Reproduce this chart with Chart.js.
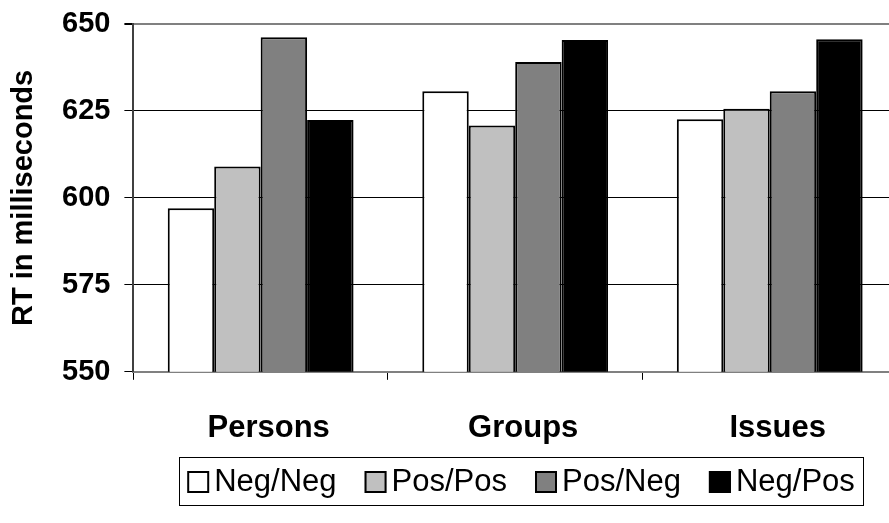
<!DOCTYPE html>
<html>
<head>
<meta charset="utf-8">
<script src="https://cdn.jsdelivr.net/npm/chart.js@4"></script>
<style>
  html, body { margin: 0; padding: 0; background: #fff; }
  #wrap { width: 889px; height: 523px; overflow: hidden; position: relative; }
</style>
</head>
<body>
<div id="wrap"><canvas id="myChart" width="897" height="523"></canvas></div>
<script>
// categories and series
const categories = ["Persons", "Groups", "Issues"];
const negNeg = [597, 630.7, 622.6];
const posPos = [609, 620.8, 625.6];
const posNeg = [646.2, 639.1, 630.7];
const negPos = [622.4, 645.4, 645.6];
const yTicks = [550, 575, 600, 625, 650];

const FONT = "'Liberation Sans', Arial, sans-serif";

// boxed legend at the bottom, like the old office charts
const boxLegend = {
    id: "boxLegend",
    afterDraw(chart) {
        const ctx = chart.ctx;
        const sets = chart.data.datasets;
        ctx.save();
        ctx.font = "31px " + FONT;
        ctx.textBaseline = "middle";
        const sq = 22, gap = 5, itemGap = 28, pad = 8;
        let total = 0;
        const widths = sets.map(s => ctx.measureText(s.label).width);
        widths.forEach((w, i) => { total += sq + gap + w + (i < widths.length - 1 ? itemGap : 0); });
        const boxW = total + pad * 2;
        const left = 521 - boxW / 2, top = 457, h = 48;
        ctx.strokeStyle = "#000";
        ctx.lineWidth = 1;
        ctx.strokeRect(Math.round(left) + 0.5, top + 0.5, Math.round(boxW), h);
        let x = left + pad;
        const cy = top + h / 2 + 1;
        sets.forEach((s, i) => {
            ctx.fillStyle = s.backgroundColor;
            ctx.fillRect(x, cy - sq / 2, sq, sq);
            ctx.lineWidth = 2;
            ctx.strokeStyle = "#000";
            ctx.strokeRect(x + 1, cy - sq / 2 + 1, sq - 2, sq - 2);
            x += sq + gap;
            ctx.fillStyle = "#000";
            ctx.fillText(s.label, x, cy);
            x += widths[i] + itemGap;
        });
        ctx.restore();
    }
};

const myChart = new Chart("myChart", {
    type: "bar",
    data: {
        labels: categories,
        datasets: [
            { label: "Neg/Neg", data: negNeg, backgroundColor: "#ffffff" },
            { label: "Pos/Pos", data: posPos, backgroundColor: "#c0c0c0" },
            { label: "Pos/Neg", data: posNeg, backgroundColor: "#808080" },
            { label: "Neg/Pos", data: negPos, backgroundColor: "#000000" },
        ],
    },
    options: {
        responsive: false,
        animation: false,
        datasets: {
            bar: {
                borderColor: "#000",
                borderWidth: 2,
                categoryPercentage: 0.73,
                barPercentage: 1,
            },
        },
        layout: {
            padding: { top: 24, left: 9, right: 0, bottom: 46 },
        },
        plugins: {
            legend: { display: false },
            tooltip: { enabled: false },
        },
        scales: {
            x: {
                grid: {
                    offset: true,
                    drawOnChartArea: false,
                    color: "#000",
                    tickLength: 8,
                },
                border: { color: "#808080", width: 2 },
                ticks: {
                    color: "#000",
                    padding: 30,
                    labelOffset: 8,
                    font: { family: FONT, size: 31, weight: "bold" },
                },
            },
            y: {
                min: 550,
                max: 650,
                afterBuildTicks(axis) {
                    axis.ticks = yTicks.map(v => ({ value: v }));
                },
                grid: {
                    color: ctx => (ctx.tick && ctx.tick.value === 650 ? "#808080" : "#000"),
                    lineWidth: ctx => (ctx.tick && ctx.tick.value === 650 ? 2 : 1),
                    tickLength: 9,
                    tickColor: "#000",
                },
                border: { color: "#404040", width: 2 },
                ticks: {
                    color: "#000",
                    padding: 14,
                    font: { family: FONT, size: 29, weight: "bold", lineHeight: 0.6 },
                },
                title: {
                    display: true,
                    text: "RT in milliseconds",
                    color: "#000",
                    padding: { top: 0, bottom: 10 },
                    font: { family: FONT, size: 29, weight: "bold", lineHeight: 1 },
                },
            },
        },
    },
    plugins: [boxLegend],
});
</script>
</body>
</html>
